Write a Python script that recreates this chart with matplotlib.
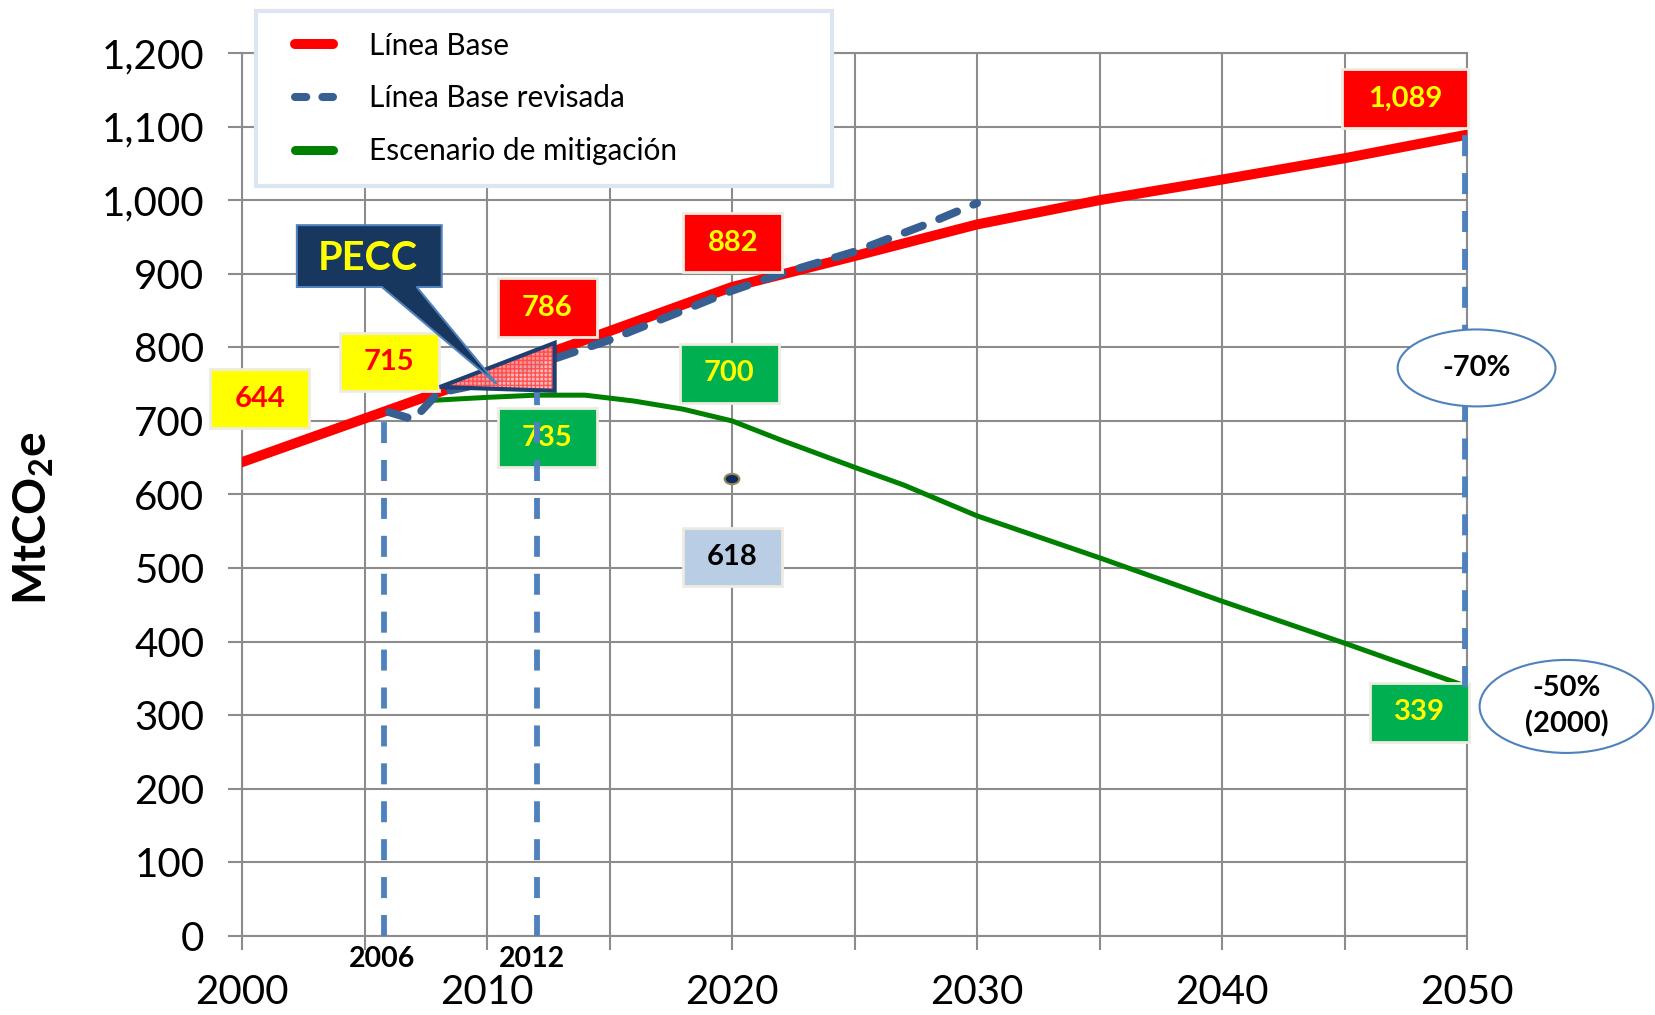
import numpy as np
import matplotlib.pyplot as plt
from matplotlib.patches import Rectangle, Ellipse, Polygon
from matplotlib.lines import Line2D
from matplotlib.legend_handler import HandlerLine2D
from matplotlib.ticker import MultipleLocator, FuncFormatter

plt.rcParams['font.family'] = ['Lato', 'DejaVu Sans']
plt.rcParams['mathtext.fontset'] = 'custom'
plt.rcParams['mathtext.rm'] = 'Lato'
plt.rcParams['mathtext.bf'] = 'Lato:bold'
plt.rcParams['hatch.linewidth'] = 1.0

# Línea Base
base_years = [2000, 2006, 2012, 2020, 2025, 2030, 2035, 2040, 2045, 2050]
base_vals = [644, 715, 786, 882, 924, 967, 1000, 1028, 1057, 1089]

# Línea Base revisada
rev_years = [2006, 2007, 2008, 2010, 2012, 2015, 2018, 2020, 2022, 2025, 2028, 2030]
rev_vals = [712, 702, 738, 752, 776, 810, 850, 877, 900, 930, 968, 996]

# Escenario de mitigación
mit_years = [2007.8, 2010, 2012, 2014, 2016, 2018, 2020, 2022, 2025, 2027, 2030, 2035, 2040, 2045, 2050]
mit_vals = [728, 732, 735, 735, 727, 716, 700, 674, 637, 613, 571, 514, 455, 398, 339]

# target point 2020
target_year = 2020
target_val = 618

series_names = ['Línea Base', 'Línea Base revisada', 'Escenario de mitigación']
reductions = ['-70%', '-50%\n(2000)']
marked_years = [2006, 2012]

RED = '#ff0000'
YEL = '#ffff00'
GRN_BOX = '#00b050'
GRN = '#008000'
BLUE_D = '#385f91'
BLUE_V = '#4f81bd'
GRID = '#8c8c8c'


class ShiftedHandler(HandlerLine2D):
    # push the legend sample a bit to the right, like the original
    def create_artists(self, legend, orig_handle, xdescent, ydescent,
                       width, height, fontsize, trans):
        return super().create_artists(legend, orig_handle, xdescent - 13,
                                      ydescent, width, height, fontsize, trans)


fig = plt.figure(figsize=(16.56, 10.15), dpi=100)
ax = fig.add_axes([242/1656, 79/1015, 1225/1656, 883/1015])
ax.set_xlim(2000, 2050)
ax.set_ylim(0, 1200)

ax.xaxis.set_major_locator(MultipleLocator(10))
ax.xaxis.set_minor_locator(MultipleLocator(5))
ax.yaxis.set_major_locator(MultipleLocator(100))
ax.yaxis.set_major_formatter(FuncFormatter(lambda v, p: f'{v:,.0f}'))
ax.tick_params(axis='both', which='both', direction='out', length=10,
               width=1.5, color=GRID, labelsize=29, pad=17)
ax.grid(True, which='both', color=GRID, lw=1.5)
ax.set_axisbelow(True)
for s in ax.spines.values():
    s.set_color(GRID)
    s.set_linewidth(1.5)

l1, = ax.plot(base_years, base_vals, color=RED, lw=7.2, solid_capstyle='round',
              solid_joinstyle='round', zorder=3, label=series_names[0])
l2, = ax.plot(rev_years, rev_vals, color=BLUE_D, lw=5.8, ls=(0, (2.4, 2.2)),
              dash_capstyle='round', zorder=4, label=series_names[1])
l3, = ax.plot(mit_years, mit_vals, color=GRN, lw=3.6, solid_capstyle='round',
              zorder=3, label=series_names[2])

# target dot
ax.add_patch(Ellipse((target_year, target_val + 3), 0.6, 14, facecolor='#0f2a5e',
                     edgecolor='#938953', lw=1.5, zorder=5))

# value boxes
W, H = 4.04, 80
boxes = [
    (f'{base_vals[0]:,}', 2000.73, 730, W, YEL, RED),
    (f'{base_vals[1]:,}', 2006.01, 780, W, YEL, RED),
    (f'{base_vals[2]:,}', 2012.45, 854, W, RED, YEL),
    (f'{base_vals[3]:,}', 2020.04, 942, W, RED, YEL),
    (f'{base_vals[-1]:,}', 2047.47, 1138, 5.18, RED, YEL),
    (f'{mit_vals[2]:,}', 2012.45, 677, W, GRN_BOX, YEL),
    (f'{mit_vals[6]:,}', 2019.89, 765, W, GRN_BOX, YEL),
    (f'{mit_vals[-1]:,}', 2048.06, 304, W, GRN_BOX, YEL),
    (f'{target_val:,}', 2020.02, 515, W, '#b9cde5', 'black'),
]
for txt, cx, cy, w, fc, tc in boxes:
    ax.add_patch(Rectangle((cx - w/2, cy - H/2), w, H, facecolor=fc,
                           edgecolor='#eeece1', lw=2, zorder=5, clip_on=False))
    ax.text(cx, cy, txt, ha='center', va='center', fontsize=21,
            fontweight='bold', color=tc, zorder=6, clip_on=False)

# vertical dashed markers
vstyle = dict(color=BLUE_V, lw=4.2, ls=(0, (3.6, 2.9)), dash_capstyle='butt', zorder=6)
ax.plot([marked_years[0] - 0.2] * 2, [0, 702], **vstyle)
ax.plot([marked_years[1] + 0.05] * 2, [0, 741], **vstyle)
ax.plot([2049.9] * 2, [mit_vals[-1], base_vals[-1]], clip_on=False, **vstyle)

for yr in marked_years:
    ax.text(yr - 0.3 if yr == 2006 else yr - 0.15, -31, str(yr), ha='center',
            va='center', fontsize=20.5, fontweight='bold', clip_on=False)

# PECC triangle
tri = [(2008.07, 746), (2012.76, 806), (2012.76, 741)]
ax.add_patch(Polygon(tri, closed=True, facecolor='#ffb0b0', edgecolor='#ff4040',
                     hatch='++++', lw=0, alpha=0.85, zorder=6))
ax.add_patch(Polygon(tri, closed=True, fill=False, edgecolor='#1f3f70', lw=3,
                     joinstyle='miter', zorder=7))

# PECC callout
L, R, T, B = 2002.24, 2008.15, 966, 882
callout = [(L, T), (R, T), (R, B), (2007.13, B), (2010.4, 750), (2005.71, B), (L, B)]
ax.add_patch(Polygon(callout, closed=True, facecolor='#17375e', edgecolor='#4f81bd',
                     lw=1.5, zorder=8, clip_on=False))
ax.text((L + R)/2 - 0.05, 921, 'PECC', ha='center', va='center', fontsize=28.5,
        fontweight='bold', color=YEL, zorder=9)

# reduction ellipses
ax.add_patch(Ellipse((2050.39, 772), 6.44, 104.6, facecolor='white',
                     edgecolor=BLUE_V, lw=1.5, zorder=8, clip_on=False))
ax.text(2050.39, 772, reductions[0], ha='center', va='center', fontsize=21,
        fontweight='bold', zorder=9, clip_on=False)
ax.add_patch(Ellipse((2054.06, 312), 7.09, 126.4, facecolor='white',
                     edgecolor=BLUE_V, lw=1.5, zorder=8, clip_on=False))
ax.text(2054.06, 312, reductions[1], ha='center', va='center', fontsize=21,
        fontweight='bold', linespacing=1.4, zorder=9, clip_on=False)

# y label
fig.text(34/1656, 1 - 518/1015, r'MtCO$_\mathbf{2}$e', rotation=90, fontsize=33,
         fontweight='bold', ha='center', va='center')

# legend samples: shorter dash pattern, thicker green like the original
h2 = Line2D([], [], color=BLUE_D, lw=5.8, ls=(0, (1.4, 2.0)), dash_capstyle='round')
h3 = Line2D([], [], color=GRN, lw=6.5, solid_capstyle='round')
leg = ax.legend(handles=[l1, h2, h3], labels=series_names, loc='upper left',
                bbox_to_anchor=(256/1656, 1 - 180/1015, 576/1656, 169/1015),
                bbox_transform=fig.transFigure, mode='expand', fontsize=21.4,
                frameon=True, fancybox=False, framealpha=1, borderpad=0.7,
                labelspacing=0.83, handlelength=1.3, handletextpad=1.8,
                borderaxespad=0, handler_map={Line2D: ShiftedHandler()})
leg.get_frame().set_edgecolor('#dce6f2')
leg.get_frame().set_linewidth(3)
leg.set_zorder(10)

fig.savefig('out.png', dpi=100)
